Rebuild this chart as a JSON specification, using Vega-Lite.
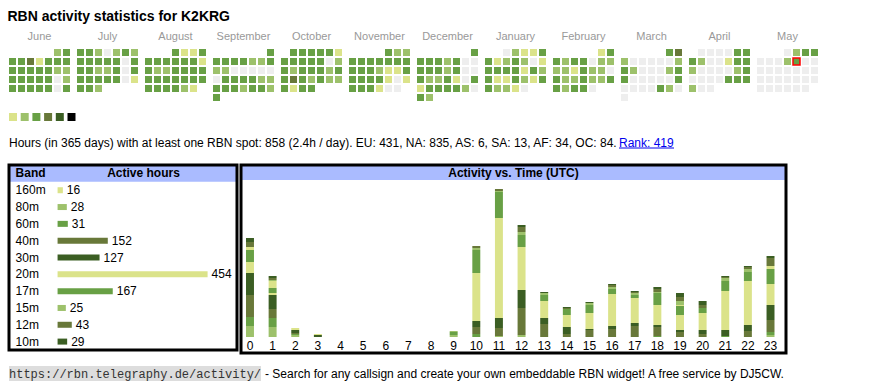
{
"$schema": "https://vega.github.io/schema/vega-lite/v6.json",
"background": "white",
"padding": {"left": 7, "top": 10, "right": 0, "bottom": 0},
"title": {"text": "RBN activity statistics for K2KRG", "anchor": "start", "fontSize": 14, "fontWeight": "bold", "font": "Liberation Sans", "color": "#000000", "offset": 6},
"config": {"view": {"stroke": null}, "font": "Liberation Sans", "text": {"font": "Liberation Sans", "fontSize": 12}, "axis": {"labelFont": "Liberation Sans"}},
"spacing": 11,
"vconcat": [
{
"width": 809, "height": 52,
"data": {"values": [
{"m":"June","c":5,"r":0,"v":2},{"m":"June","c":6,"r":0,"v":3},
{"m":"June","c":0,"r":1,"v":3},{"m":"June","c":1,"r":1,"v":3},{"m":"June","c":2,"r":1,"v":4},{"m":"June","c":3,"r":1,"v":1},{"m":"June","c":4,"r":1,"v":3},{"m":"June","c":5,"r":1,"v":3},{"m":"June","c":6,"r":1,"v":3},
{"m":"June","c":0,"r":2,"v":3},{"m":"June","c":1,"r":2,"v":3},{"m":"June","c":2,"r":2,"v":3},{"m":"June","c":3,"r":2,"v":3},{"m":"June","c":4,"r":2,"v":3},{"m":"June","c":5,"r":2,"v":2},{"m":"June","c":6,"r":2,"v":2},
{"m":"June","c":0,"r":3,"v":3},{"m":"June","c":1,"r":3,"v":3},{"m":"June","c":2,"r":3,"v":3},{"m":"June","c":3,"r":3,"v":3},{"m":"June","c":4,"r":3,"v":3},{"m":"June","c":5,"r":3,"v":0},{"m":"June","c":6,"r":3,"v":2},
{"m":"June","c":0,"r":4,"v":3},{"m":"June","c":1,"r":4,"v":3},{"m":"June","c":2,"r":4,"v":3},{"m":"June","c":3,"r":4,"v":3},{"m":"June","c":4,"r":4,"v":3},{"m":"June","c":5,"r":4,"v":0},{"m":"June","c":6,"r":4,"v":3},
{"m":"July","c":0,"r":0,"v":3},{"m":"July","c":1,"r":0,"v":3},{"m":"July","c":2,"r":0,"v":2},{"m":"July","c":3,"r":0,"v":0},{"m":"July","c":4,"r":0,"v":2},{"m":"July","c":5,"r":0,"v":3},{"m":"July","c":6,"r":0,"v":2},
{"m":"July","c":0,"r":1,"v":3},{"m":"July","c":1,"r":1,"v":3},{"m":"July","c":2,"r":1,"v":3},{"m":"July","c":3,"r":1,"v":3},{"m":"July","c":4,"r":1,"v":3},{"m":"July","c":5,"r":1,"v":0},{"m":"July","c":6,"r":1,"v":3},
{"m":"July","c":0,"r":2,"v":3},{"m":"July","c":1,"r":2,"v":3},{"m":"July","c":2,"r":2,"v":2},{"m":"July","c":3,"r":2,"v":2},{"m":"July","c":4,"r":2,"v":3},{"m":"July","c":5,"r":2,"v":0},{"m":"July","c":6,"r":2,"v":3},
{"m":"July","c":0,"r":3,"v":3},{"m":"July","c":1,"r":3,"v":3},{"m":"July","c":2,"r":3,"v":3},{"m":"July","c":3,"r":3,"v":3},{"m":"July","c":4,"r":3,"v":3},{"m":"July","c":5,"r":3,"v":0},{"m":"July","c":6,"r":3,"v":1},
{"m":"July","c":0,"r":4,"v":3},{"m":"July","c":1,"r":4,"v":3},{"m":"July","c":2,"r":4,"v":2},
{"m":"August","c":3,"r":0,"v":3},{"m":"August","c":4,"r":0,"v":1},{"m":"August","c":5,"r":0,"v":1},{"m":"August","c":6,"r":0,"v":3},
{"m":"August","c":0,"r":1,"v":3},{"m":"August","c":1,"r":1,"v":3},{"m":"August","c":2,"r":1,"v":3},{"m":"August","c":3,"r":1,"v":3},{"m":"August","c":4,"r":1,"v":3},{"m":"August","c":5,"r":1,"v":3},{"m":"August","c":6,"r":1,"v":1},
{"m":"August","c":0,"r":2,"v":3},{"m":"August","c":1,"r":2,"v":2},{"m":"August","c":2,"r":2,"v":2},{"m":"August","c":3,"r":2,"v":3},{"m":"August","c":4,"r":2,"v":3},{"m":"August","c":5,"r":2,"v":3},{"m":"August","c":6,"r":2,"v":3},
{"m":"August","c":0,"r":3,"v":3},{"m":"August","c":1,"r":3,"v":3},{"m":"August","c":2,"r":3,"v":3},{"m":"August","c":3,"r":3,"v":3},{"m":"August","c":4,"r":3,"v":3},{"m":"August","c":5,"r":3,"v":3},{"m":"August","c":6,"r":3,"v":3},
{"m":"August","c":0,"r":4,"v":3},{"m":"August","c":1,"r":4,"v":3},{"m":"August","c":2,"r":4,"v":3},{"m":"August","c":3,"r":4,"v":3},{"m":"August","c":4,"r":4,"v":2},{"m":"August","c":5,"r":4,"v":1},
{"m":"September","c":6,"r":0,"v":3},
{"m":"September","c":0,"r":1,"v":3},{"m":"September","c":1,"r":1,"v":3},{"m":"September","c":2,"r":1,"v":3},{"m":"September","c":3,"r":1,"v":3},{"m":"September","c":4,"r":1,"v":2},{"m":"September","c":5,"r":1,"v":2},{"m":"September","c":6,"r":1,"v":3},
{"m":"September","c":0,"r":2,"v":2},{"m":"September","c":1,"r":2,"v":2},{"m":"September","c":2,"r":2,"v":0},{"m":"September","c":3,"r":2,"v":0},{"m":"September","c":4,"r":2,"v":0},{"m":"September","c":5,"r":2,"v":0},{"m":"September","c":6,"r":2,"v":0},
{"m":"September","c":0,"r":3,"v":0},{"m":"September","c":1,"r":3,"v":3},{"m":"September","c":2,"r":3,"v":3},{"m":"September","c":3,"r":3,"v":3},{"m":"September","c":4,"r":3,"v":3},{"m":"September","c":5,"r":3,"v":2},{"m":"September","c":6,"r":3,"v":2},
{"m":"September","c":0,"r":4,"v":3},{"m":"September","c":1,"r":4,"v":3},{"m":"September","c":2,"r":4,"v":3},{"m":"September","c":3,"r":4,"v":2},{"m":"September","c":4,"r":4,"v":3},{"m":"September","c":5,"r":4,"v":3},{"m":"September","c":6,"r":4,"v":2},
{"m":"September","c":0,"r":5,"v":3},
{"m":"October","c":1,"r":0,"v":3},{"m":"October","c":2,"r":0,"v":3},{"m":"October","c":3,"r":0,"v":3},{"m":"October","c":4,"r":0,"v":3},{"m":"October","c":5,"r":0,"v":3},{"m":"October","c":6,"r":0,"v":1},
{"m":"October","c":0,"r":1,"v":3},{"m":"October","c":1,"r":1,"v":3},{"m":"October","c":2,"r":1,"v":3},{"m":"October","c":3,"r":1,"v":3},{"m":"October","c":4,"r":1,"v":3},{"m":"October","c":5,"r":1,"v":0},{"m":"October","c":6,"r":1,"v":2},
{"m":"October","c":0,"r":2,"v":3},{"m":"October","c":1,"r":2,"v":2},{"m":"October","c":2,"r":2,"v":3},{"m":"October","c":3,"r":2,"v":3},{"m":"October","c":4,"r":2,"v":3},{"m":"October","c":5,"r":2,"v":2},{"m":"October","c":6,"r":2,"v":3},
{"m":"October","c":0,"r":3,"v":3},{"m":"October","c":1,"r":3,"v":4},{"m":"October","c":2,"r":3,"v":3},{"m":"October","c":3,"r":3,"v":2},{"m":"October","c":4,"r":3,"v":3},{"m":"October","c":5,"r":3,"v":2},{"m":"October","c":6,"r":3,"v":2},
{"m":"October","c":0,"r":4,"v":3},{"m":"October","c":1,"r":4,"v":1},{"m":"October","c":2,"r":4,"v":3},{"m":"October","c":3,"r":4,"v":3},
{"m":"November","c":4,"r":0,"v":3},{"m":"November","c":5,"r":0,"v":2},{"m":"November","c":6,"r":0,"v":2},
{"m":"November","c":0,"r":1,"v":3},{"m":"November","c":1,"r":1,"v":3},{"m":"November","c":2,"r":1,"v":3},{"m":"November","c":3,"r":1,"v":3},{"m":"November","c":4,"r":1,"v":3},{"m":"November","c":5,"r":1,"v":3},{"m":"November","c":6,"r":1,"v":3},
{"m":"November","c":0,"r":2,"v":3},{"m":"November","c":1,"r":2,"v":3},{"m":"November","c":2,"r":2,"v":3},{"m":"November","c":3,"r":2,"v":2},{"m":"November","c":4,"r":2,"v":1},{"m":"November","c":5,"r":2,"v":1},{"m":"November","c":6,"r":2,"v":3},
{"m":"November","c":0,"r":3,"v":3},{"m":"November","c":1,"r":3,"v":3},{"m":"November","c":2,"r":3,"v":3},{"m":"November","c":3,"r":3,"v":3},{"m":"November","c":4,"r":3,"v":1},{"m":"November","c":5,"r":3,"v":0},{"m":"November","c":6,"r":3,"v":1},
{"m":"November","c":0,"r":4,"v":3},{"m":"November","c":1,"r":4,"v":3},{"m":"November","c":2,"r":4,"v":3},{"m":"November","c":3,"r":4,"v":1},{"m":"November","c":4,"r":4,"v":0},{"m":"November","c":5,"r":4,"v":0},
{"m":"December","c":6,"r":0,"v":3},
{"m":"December","c":0,"r":1,"v":3},{"m":"December","c":1,"r":1,"v":3},{"m":"December","c":2,"r":1,"v":3},{"m":"December","c":3,"r":1,"v":2},{"m":"December","c":4,"r":1,"v":3},{"m":"December","c":5,"r":1,"v":0},{"m":"December","c":6,"r":1,"v":0},
{"m":"December","c":0,"r":2,"v":3},{"m":"December","c":1,"r":2,"v":3},{"m":"December","c":2,"r":2,"v":3},{"m":"December","c":3,"r":2,"v":2},{"m":"December","c":4,"r":2,"v":3},{"m":"December","c":5,"r":2,"v":0},{"m":"December","c":6,"r":2,"v":0},
{"m":"December","c":0,"r":3,"v":3},{"m":"December","c":1,"r":3,"v":2},{"m":"December","c":2,"r":3,"v":2},{"m":"December","c":3,"r":3,"v":3},{"m":"December","c":4,"r":3,"v":1},{"m":"December","c":5,"r":3,"v":0},{"m":"December","c":6,"r":3,"v":3},
{"m":"December","c":0,"r":4,"v":1},{"m":"December","c":1,"r":4,"v":3},{"m":"December","c":2,"r":4,"v":3},{"m":"December","c":3,"r":4,"v":3},{"m":"December","c":4,"r":4,"v":3},{"m":"December","c":5,"r":4,"v":2},{"m":"December","c":6,"r":4,"v":0},
{"m":"December","c":0,"r":5,"v":3},{"m":"December","c":1,"r":5,"v":2},
{"m":"January","c":2,"r":0,"v":0},{"m":"January","c":3,"r":0,"v":2},{"m":"January","c":4,"r":0,"v":1},{"m":"January","c":5,"r":0,"v":1},{"m":"January","c":6,"r":0,"v":3},
{"m":"January","c":0,"r":1,"v":3},{"m":"January","c":1,"r":1,"v":1},{"m":"January","c":2,"r":1,"v":2},{"m":"January","c":3,"r":1,"v":3},{"m":"January","c":4,"r":1,"v":2},{"m":"January","c":5,"r":1,"v":0},{"m":"January","c":6,"r":1,"v":1},
{"m":"January","c":0,"r":2,"v":3},{"m":"January","c":1,"r":2,"v":3},{"m":"January","c":2,"r":2,"v":3},{"m":"January","c":3,"r":2,"v":3},{"m":"January","c":4,"r":2,"v":1},{"m":"January","c":5,"r":2,"v":3},{"m":"January","c":6,"r":2,"v":2},
{"m":"January","c":0,"r":3,"v":3},{"m":"January","c":1,"r":3,"v":1},{"m":"January","c":2,"r":3,"v":1},{"m":"January","c":3,"r":3,"v":3},{"m":"January","c":4,"r":3,"v":2},{"m":"January","c":5,"r":3,"v":1},{"m":"January","c":6,"r":3,"v":3},
{"m":"January","c":0,"r":4,"v":3},{"m":"January","c":1,"r":4,"v":2},{"m":"January","c":2,"r":4,"v":2},{"m":"January","c":3,"r":4,"v":1},{"m":"January","c":4,"r":4,"v":0},
{"m":"February","c":5,"r":0,"v":1},{"m":"February","c":6,"r":0,"v":3},
{"m":"February","c":0,"r":1,"v":3},{"m":"February","c":1,"r":1,"v":2},{"m":"February","c":2,"r":1,"v":3},{"m":"February","c":3,"r":1,"v":3},{"m":"February","c":4,"r":1,"v":0},{"m":"February","c":5,"r":1,"v":2},{"m":"February","c":6,"r":1,"v":2},
{"m":"February","c":0,"r":2,"v":2},{"m":"February","c":1,"r":2,"v":2},{"m":"February","c":2,"r":2,"v":1},{"m":"February","c":3,"r":2,"v":3},{"m":"February","c":4,"r":2,"v":2},{"m":"February","c":5,"r":2,"v":2},{"m":"February","c":6,"r":2,"v":0},
{"m":"February","c":0,"r":3,"v":3},{"m":"February","c":1,"r":3,"v":2},{"m":"February","c":2,"r":3,"v":2},{"m":"February","c":3,"r":3,"v":3},{"m":"February","c":4,"r":3,"v":2},{"m":"February","c":5,"r":3,"v":2},{"m":"February","c":6,"r":3,"v":3},
{"m":"February","c":0,"r":4,"v":3},{"m":"February","c":1,"r":4,"v":2},{"m":"February","c":2,"r":4,"v":3},{"m":"February","c":3,"r":4,"v":3},{"m":"February","c":4,"r":4,"v":0},
{"m":"March","c":5,"r":0,"v":3},{"m":"March","c":6,"r":0,"v":4},
{"m":"March","c":0,"r":1,"v":2},{"m":"March","c":1,"r":1,"v":0},{"m":"March","c":2,"r":1,"v":0},{"m":"March","c":3,"r":1,"v":0},{"m":"March","c":4,"r":1,"v":0},{"m":"March","c":5,"r":1,"v":0},{"m":"March","c":6,"r":1,"v":2},
{"m":"March","c":0,"r":2,"v":3},{"m":"March","c":1,"r":2,"v":2},{"m":"March","c":2,"r":2,"v":0},{"m":"March","c":3,"r":2,"v":0},{"m":"March","c":4,"r":2,"v":0},{"m":"March","c":5,"r":2,"v":2},{"m":"March","c":6,"r":2,"v":3},
{"m":"March","c":0,"r":3,"v":3},{"m":"March","c":1,"r":3,"v":0},{"m":"March","c":2,"r":3,"v":0},{"m":"March","c":3,"r":3,"v":0},{"m":"March","c":4,"r":3,"v":0},{"m":"March","c":5,"r":3,"v":0},{"m":"March","c":6,"r":3,"v":3},
{"m":"March","c":0,"r":4,"v":0},{"m":"March","c":1,"r":4,"v":0},{"m":"March","c":2,"r":4,"v":0},{"m":"March","c":3,"r":4,"v":0},{"m":"March","c":4,"r":4,"v":3},{"m":"March","c":5,"r":4,"v":2},{"m":"March","c":6,"r":4,"v":0},
{"m":"March","c":0,"r":5,"v":0},
{"m":"April","c":1,"r":0,"v":0},{"m":"April","c":2,"r":0,"v":0},{"m":"April","c":3,"r":0,"v":0},{"m":"April","c":4,"r":0,"v":0},{"m":"April","c":5,"r":0,"v":3},{"m":"April","c":6,"r":0,"v":3},
{"m":"April","c":0,"r":1,"v":3},{"m":"April","c":1,"r":1,"v":2},{"m":"April","c":2,"r":1,"v":0},{"m":"April","c":3,"r":1,"v":0},{"m":"April","c":4,"r":1,"v":1},{"m":"April","c":5,"r":1,"v":3},{"m":"April","c":6,"r":1,"v":3},
{"m":"April","c":0,"r":2,"v":2},{"m":"April","c":1,"r":2,"v":0},{"m":"April","c":2,"r":2,"v":0},{"m":"April","c":3,"r":2,"v":0},{"m":"April","c":4,"r":2,"v":0},{"m":"April","c":5,"r":2,"v":2},{"m":"April","c":6,"r":2,"v":3},
{"m":"April","c":0,"r":3,"v":0},{"m":"April","c":1,"r":3,"v":0},{"m":"April","c":2,"r":3,"v":0},{"m":"April","c":3,"r":3,"v":0},{"m":"April","c":4,"r":3,"v":3},{"m":"April","c":5,"r":3,"v":3},{"m":"April","c":6,"r":3,"v":3},
{"m":"April","c":0,"r":4,"v":2},{"m":"April","c":1,"r":4,"v":0},{"m":"April","c":2,"r":4,"v":0},
{"m":"May","c":3,"r":0,"v":0},{"m":"May","c":4,"r":0,"v":2},{"m":"May","c":5,"r":0,"v":3},{"m":"May","c":6,"r":0,"v":3},
{"m":"May","c":0,"r":1,"v":0},{"m":"May","c":1,"r":1,"v":0},{"m":"May","c":2,"r":1,"v":0},{"m":"May","c":3,"r":1,"v":2},{"m":"May","c":4,"r":1,"v":3,"t":1},{"m":"May","c":5,"r":1,"v":0},{"m":"May","c":6,"r":1,"v":0},
{"m":"May","c":0,"r":2,"v":0},{"m":"May","c":1,"r":2,"v":0},{"m":"May","c":2,"r":2,"v":0},{"m":"May","c":3,"r":2,"v":0},{"m":"May","c":4,"r":2,"v":0},{"m":"May","c":5,"r":2,"v":0},{"m":"May","c":6,"r":2,"v":0},
{"m":"May","c":0,"r":3,"v":0},{"m":"May","c":1,"r":3,"v":0},{"m":"May","c":2,"r":3,"v":0},{"m":"May","c":3,"r":3,"v":0},{"m":"May","c":4,"r":3,"v":0},{"m":"May","c":5,"r":3,"v":0},{"m":"May","c":6,"r":3,"v":0},
{"m":"May","c":0,"r":4,"v":0},{"m":"May","c":1,"r":4,"v":0},{"m":"May","c":2,"r":4,"v":0},{"m":"May","c":3,"r":4,"v":0},{"m":"May","c":4,"r":4,"v":0},{"m":"May","c":5,"r":4,"v":0}
]},
"mark": {"type": "rect", "strokeWidth": 1.5},
"encoding": {
"x": {"field": "m", "type": "nominal", "scale": {"domain": ["June","July","August","September","October","November","December","January","February","March","April","May"], "paddingInner": 0.103, "paddingOuter": 0}, "axis": {"orient": "top", "title": null, "domain": false, "ticks": false, "labelPadding": 8, "labelColor": "#999999", "labelFontSize": 11, "labelAngle": 0}},
"xOffset": {"field": "c", "type": "ordinal", "scale": {"domain": [0,1,2,3,4,5,6], "paddingInner": 0.222, "paddingOuter": 0}},
"y": {"field": "r", "type": "ordinal", "scale": {"domain": [0,1,2,3,4,5], "paddingInner": 0.222, "paddingOuter": 0}, "axis": null},
"fill": {"field": "v", "type": "ordinal", "scale": {"domain": [0,1,2,3,4,5,6], "range": ["#eeeeee","#dbe38a","#9dc16b","#68a045","#687839","#3b5e23","#000000"]}, "legend": null},
"stroke": {"condition": {"test": "datum.t === 1", "value": "#ff0000"}, "value": "transparent"}
}
},
{
"width": 66.5, "height": 8,
"data": {"values": [{"v":1},{"v":2},{"v":3},{"v":4},{"v":5},{"v":6}]},
"mark": "rect",
"encoding": {
"x": {"field": "v", "type": "ordinal", "scale": {"paddingInner": 0.316, "paddingOuter": 0}, "axis": null},
"fill": {"field": "v", "type": "ordinal", "legend": null}
}
},
{
"spacing": 0,
"hconcat": [
{
"width": 609, "height": 20,
"data": {"values": [{"t": "Hours (in 365 days) with at least one RBN spot: 858 (2.4h / day). EU: 431, NA: 835, AS: 6, SA: 13, AF: 34, OC: 84."}]},
"mark": {"type": "text", "align": "left", "baseline": "alphabetic", "fontSize": 12, "color": "#000000"},
"encoding": {"text": {"field": "t"}, "x": {"value": 0}, "y": {"value": 14.5}}
},
{
"width": 55, "height": 20,
"data": {"values": [{"t": "Rank: 419"}]},
"layer": [
{"mark": {"type": "text", "align": "left", "baseline": "alphabetic", "fontSize": 12, "color": "#0000ee"}, "encoding": {"text": {"field": "t"}, "x": {"value": 0}, "y": {"value": 14.5}}},
{"mark": {"type": "rule", "color": "#0000ee", "strokeWidth": 1}, "encoding": {"x": {"value": 0}, "x2": {"value": "width"}, "y": {"value": 16}}}
]
}
]
},
{
"spacing": 11,
"vconcat": [
{
"spacing": 0,
"hconcat": [
{
"width": 228, "height": 185,
"data": {"values": [{"b":"160m","n":16},{"b":"80m","n":28},{"b":"60m","n":31},{"b":"40m","n":152},{"b":"30m","n":127},{"b":"20m","n":454},{"b":"17m","n":167},{"b":"15m","n":25},{"b":"12m","n":43},{"b":"10m","n":29}]},
"layer": [
{"data": {"values": [{"b": "Band"}]}, "mark": {"type": "rect", "color": "#aabbff"},
 "encoding": {"y": {"field": "b", "type": "nominal", "scale": {"domain": ["Band","160m","80m","60m","40m","30m","20m","17m","15m","12m","10m"], "paddingInner": 0, "paddingOuter": 0}, "axis": null}, "x": {"value": 0}, "x2": {"value": "width"}}},
{"mark": {"type": "bar", "height": 6},
 "encoding": {"y": {"field": "b", "type": "nominal", "axis": null}, "x": {"field": "n", "type": "quantitative", "stack": null, "scale": {"domain": [-147, 543], "nice": false, "zero": false}, "axis": null},
  "color": {"field": "b", "type": "nominal", "scale": {"domain": ["160m","80m","60m","40m","30m","20m","17m","15m","12m","10m"], "range": ["#dbe38a","#9dc16b","#68a045","#687839","#3b5e23","#dbe38a","#68a045","#9dc16b","#687839","#3b5e23"]}, "legend": null}}},
{"mark": {"type": "text", "align": "left", "baseline": "middle", "fontSize": 12, "color": "#000000"},
 "encoding": {"y": {"field": "b", "type": "nominal", "axis": null}, "x": {"datum": -127, "axis": null}, "text": {"field": "b"}}},
{"mark": {"type": "text", "align": "left", "baseline": "middle", "fontSize": 12, "dx": 4, "color": "#000000"},
 "encoding": {"y": {"field": "b", "type": "nominal", "axis": null}, "x": {"field": "n", "type": "quantitative", "axis": null}, "text": {"field": "n"}}},
{"data": {"values": [{"b": "Band", "t": "Band"}]}, "mark": {"type": "text", "align": "left", "baseline": "middle", "fontSize": 12, "fontWeight": "bold", "color": "#000000"},
 "encoding": {"y": {"field": "b", "type": "nominal", "axis": null}, "x": {"datum": -127, "axis": null}, "text": {"field": "t"}}},
{"data": {"values": [{"b": "Band", "t": "Active hours"}]}, "mark": {"type": "text", "align": "center", "baseline": "middle", "fontSize": 12, "fontWeight": "bold", "color": "#000000"},
 "encoding": {"y": {"field": "b", "type": "nominal", "axis": null}, "x": {"datum": 260, "axis": null}, "text": {"field": "t"}}},
{"data": {"values": [{}]}, "mark": {"type": "rect", "filled": false, "color": "#000000", "strokeWidth": 3},
 "encoding": {"x": {"value": 0}, "x2": {"value": "width"}, "y": {"value": 0}, "y2": {"value": "height"}}}
]
},
{
"width": 545, "height": 188,
"data": {"values": [
{"h":0,"b":"160m","n":3},{"h":0,"b":"80m","n":11},{"h":0,"b":"60m","n":9},{"h":0,"b":"40m","n":22},{"h":0,"b":"30m","n":22},{"h":0,"b":"20m","n":11},{"h":0,"b":"17m","n":12},{"h":0,"b":"12m","n":5},{"h":0,"b":"10m","n":4},
{"h":1,"b":"160m","n":7},{"h":1,"b":"80m","n":10},{"h":1,"b":"60m","n":9},{"h":1,"b":"40m","n":9},{"h":1,"b":"30m","n":14},{"h":1,"b":"20m","n":2},{"h":1,"b":"17m","n":5},{"h":1,"b":"15m","n":1},{"h":1,"b":"12m","n":2},{"h":1,"b":"10m","n":2},
{"h":2,"b":"160m","n":2},{"h":2,"b":"80m","n":2},{"h":2,"b":"60m","n":1},{"h":2,"b":"40m","n":1},{"h":2,"b":"30m","n":3},
{"h":3,"b":"30m","n":2},{"h":3,"b":"20m","n":1},
{"h":9,"b":"80m","n":2},{"h":9,"b":"60m","n":2},{"h":9,"b":"17m","n":1},{"h":9,"b":"15m","n":1},
{"h":10,"b":"60m","n":3},{"h":10,"b":"40m","n":7},{"h":10,"b":"30m","n":6},{"h":10,"b":"20m","n":48},{"h":10,"b":"17m","n":23},{"h":10,"b":"15m","n":2},{"h":10,"b":"12m","n":2},
{"h":11,"b":"80m","n":1},{"h":11,"b":"40m","n":8},{"h":11,"b":"30m","n":10},{"h":11,"b":"20m","n":100},{"h":11,"b":"17m","n":26},{"h":11,"b":"15m","n":1},{"h":11,"b":"12m","n":2},
{"h":12,"b":"80m","n":2},{"h":12,"b":"40m","n":27},{"h":12,"b":"30m","n":18},{"h":12,"b":"20m","n":43},{"h":12,"b":"17m","n":12},{"h":12,"b":"15m","n":3},{"h":12,"b":"12m","n":5},{"h":12,"b":"10m","n":2},
{"h":13,"b":"40m","n":13},{"h":13,"b":"30m","n":6},{"h":13,"b":"20m","n":17},{"h":13,"b":"17m","n":6},{"h":13,"b":"15m","n":2},{"h":13,"b":"10m","n":1},
{"h":14,"b":"40m","n":3},{"h":14,"b":"30m","n":7},{"h":14,"b":"20m","n":12},{"h":14,"b":"17m","n":6},{"h":14,"b":"12m","n":1},{"h":14,"b":"10m","n":1},
{"h":15,"b":"40m","n":7},{"h":15,"b":"30m","n":1},{"h":15,"b":"20m","n":16},{"h":15,"b":"17m","n":8},{"h":15,"b":"15m","n":2},{"h":15,"b":"10m","n":1},
{"h":16,"b":"40m","n":8},{"h":16,"b":"30m","n":3},{"h":16,"b":"20m","n":32},{"h":16,"b":"17m","n":5},{"h":16,"b":"15m","n":2},{"h":16,"b":"12m","n":2},{"h":16,"b":"10m","n":1},
{"h":17,"b":"40m","n":11},{"h":17,"b":"30m","n":3},{"h":17,"b":"20m","n":25},{"h":17,"b":"17m","n":3},{"h":17,"b":"15m","n":2},{"h":17,"b":"12m","n":1},{"h":17,"b":"10m","n":1},
{"h":18,"b":"60m","n":1},{"h":18,"b":"40m","n":9},{"h":18,"b":"30m","n":2},{"h":18,"b":"20m","n":20},{"h":18,"b":"17m","n":12},{"h":18,"b":"15m","n":1},{"h":18,"b":"12m","n":3},{"h":18,"b":"10m","n":2},
{"h":19,"b":"160m","n":1},{"h":19,"b":"40m","n":5},{"h":19,"b":"30m","n":2},{"h":19,"b":"20m","n":15},{"h":19,"b":"17m","n":9},{"h":19,"b":"15m","n":4},{"h":19,"b":"12m","n":4},{"h":19,"b":"10m","n":4},
{"h":20,"b":"40m","n":3},{"h":20,"b":"30m","n":4},{"h":20,"b":"20m","n":17},{"h":20,"b":"17m","n":5},{"h":20,"b":"12m","n":3},{"h":20,"b":"10m","n":4},
{"h":21,"b":"60m","n":1},{"h":21,"b":"30m","n":6},{"h":21,"b":"20m","n":39},{"h":21,"b":"17m","n":10},{"h":21,"b":"15m","n":3},{"h":21,"b":"12m","n":1},{"h":21,"b":"10m","n":1},
{"h":22,"b":"40m","n":6},{"h":22,"b":"30m","n":6},{"h":22,"b":"20m","n":44},{"h":22,"b":"17m","n":9},{"h":22,"b":"15m","n":3},{"h":22,"b":"12m","n":2},{"h":22,"b":"10m","n":1},
{"h":23,"b":"160m","n":3},{"h":23,"b":"80m","n":2},{"h":23,"b":"60m","n":3},{"h":23,"b":"40m","n":12},{"h":23,"b":"30m","n":15},{"h":23,"b":"20m","n":21},{"h":23,"b":"17m","n":15},{"h":23,"b":"12m","n":8},{"h":23,"b":"10m","n":2}
]},
"layer": [
{"data": {"values": [{}]}, "mark": {"type": "rect", "color": "#aabbff"},
 "encoding": {"x": {"value": 0}, "x2": {"value": "width"}, "y": {"datum": 157, "axis": null}, "y2": {"datum": 172}}},
{"mark": "bar",
 "encoding": {
  "x": {"field": "h", "type": "ordinal", "scale": {"domain": [0,1,2,3,4,5,6,7,8,9,10,11,12,13,14,15,16,17,18,19,20,21,22,23], "range": [5, 533.5], "paddingInner": 0.648, "paddingOuter": 0}, "axis": null},
  "y": {"field": "n", "type": "quantitative", "stack": "zero", "scale": {"domain": [-16, 172], "nice": false, "zero": false}, "axis": null},
  "color": {"field": "b", "type": "nominal", "sort": ["160m","80m","60m","40m","30m","20m","17m","15m","12m","10m"], "legend": null}
 }},
{"data": {"values": [{"h":0},{"h":1},{"h":2},{"h":3},{"h":4},{"h":5},{"h":6},{"h":7},{"h":8},{"h":9},{"h":10},{"h":11},{"h":12},{"h":13},{"h":14},{"h":15},{"h":16},{"h":17},{"h":18},{"h":19},{"h":20},{"h":21},{"h":22},{"h":23}]},
 "mark": {"type": "text", "align": "center", "baseline": "middle", "fontSize": 12, "color": "#000000"},
 "encoding": {"x": {"field": "h", "type": "ordinal", "axis": null}, "y": {"datum": -9, "axis": null}, "text": {"field": "h"}}},
{"data": {"values": [{"t": "Activity vs. Time (UTC)"}]}, "mark": {"type": "text", "align": "center", "baseline": "middle", "fontSize": 12, "fontWeight": "bold", "color": "#000000"},
 "encoding": {"y": {"datum": 164.5, "axis": null}, "text": {"field": "t"}}},
{"data": {"values": [{}]}, "mark": {"type": "rect", "filled": false, "color": "#000000", "strokeWidth": 3},
 "encoding": {"x": {"value": 0}, "x2": {"value": "width"}, "y": {"value": 0}, "y2": {"value": "height"}}}
]
}
]
},
{
"spacing": 0,
"hconcat": [
{
"width": 252, "height": 15,
"data": {"values": [{"t": "https://rbn.telegraphy.de/activity/"}]},
"layer": [
{"mark": {"type": "rect", "color": "#dddddd"}, "encoding": {"x": {"value": 0}, "x2": {"value": "width"}, "y": {"value": 0}, "y2": {"value": "height"}}},
{"mark": {"type": "text", "align": "left", "baseline": "middle", "font": "Liberation Mono", "fontSize": 12, "color": "#333333"}, "encoding": {"text": {"field": "t"}, "x": {"value": 0}}}
]
},
{
"width": 540, "height": 15,
"data": {"values": [{"t": "- Search for any callsign and create your own embeddable RBN widget! A free service by DJ5CW."}]},
"mark": {"type": "text", "align": "left", "baseline": "middle", "fontSize": 12, "dx": 3, "color": "#000000"},
"encoding": {"text": {"field": "t"}, "x": {"value": 0}}
}
]
}
]
}
]
}
